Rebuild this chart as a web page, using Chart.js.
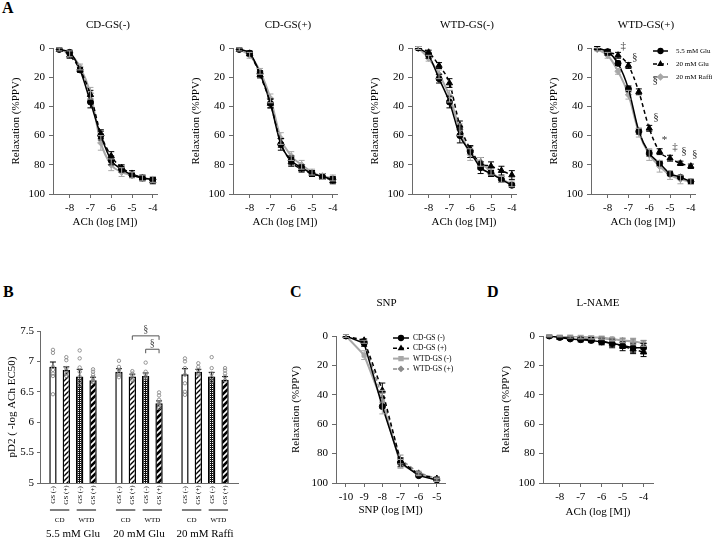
<!DOCTYPE html>
<html><head><meta charset="utf-8">
<script src="https://cdn.jsdelivr.net/npm/chart.js@4/dist/chart.umd.min.js"></script>
<style>
body{margin:0;background:#fff;}
#wrap{position:relative;width:712px;height:540px;overflow:hidden;background:#fff;}
canvas{position:absolute;}
.lt{position:absolute;font:bold 16px "Liberation Serif",serif;color:#000;line-height:16px;}
</style></head><body>
<div id="wrap">
<div class="lt" style="left:2px;top:0px">A</div>
<div class="lt" style="left:3px;top:284px">B</div>
<div class="lt" style="left:290px;top:284px">C</div>
<div class="lt" style="left:487px;top:284px">D</div>
<canvas id="a1" width="180" height="240" style="left:0px;top:0px"></canvas>
<canvas id="a2" width="180" height="240" style="left:180px;top:0px"></canvas>
<canvas id="a3" width="180" height="240" style="left:359px;top:0px"></canvas>
<canvas id="a4" width="174" height="240" style="left:538px;top:0px"></canvas>
<canvas id="b" width="250" height="250" style="left:0px;top:290px"></canvas>
<canvas id="c" width="190" height="240" style="left:280px;top:290px"></canvas>
<canvas id="d" width="200" height="240" style="left:490px;top:290px"></canvas>
</div>
<script>
// ---------------- DATA ----------------
const achDoses = [-8.5,-8,-7.5,-7,-6.5,-6,-5.5,-5,-4.5,-4];
const achTicks = [-8,-7,-6,-5,-4];
const snpDoses = [-10,-9,-8,-7,-6,-5];
const snpTicks = [-10,-9,-8,-7,-6,-5];
const relaxTicks = [0,20,40,60,80,100];
const seriesA = ['5.5 mM Glu','20 mM Glu','20 mM Raffi'];
const panelTitlesA = ['CD-GS(-)','CD-GS(+)','WTD-GS(-)','WTD-GS(+)'];

// Panel A1: CD-GS(-)
const a1_glu55 = [1,3,15,37,60,77,83,87,89,90];
const a1_glu20 = [1,5,15,32,59,74,82,86,89,91];
const a1_raffi = [1,4,13,31,65,80,85,87,89,90];
const a1_glu55_err = [1,1.5,1.5,4,3,3,2,1.5,1.5,1.5];
const a1_glu20_err = [1,2,1.5,3,3,3,2,2,2,2];
const a1_raffi_err = [1,2,2,4,5,4,3,2,2,2];
// Panel A2: CD-GS(+)
const a2_glu55 = [1,3.5,17.5,38,66,77,82,86,88,90];
const a2_glu20 = [1,4,18.5,38,65,78,83,86,88,91];
const a2_raffi = [1,5,16,34.5,62,74,80,85,88,89];
const a2_glu55_err = [1,1.5,2,3,4,3,2,2,2,2];
const a2_glu20_err = [1,1.5,2,3,3,3,2,2,2,2];
const a2_raffi_err = [1,2,2,3,4,3,3,2,2,2];
// Panel A3: WTD-GS(-)
const a3_glu55 = [0,5,21,37,60,71,82,86,90,94];
const a3_glu20 = [0,3,12,24,53,69,79,81,84,87];
const a3_raffi = [0,7,18,33,56,73,78,85,90,93];
const a3_glu55_err = [1,2,3,4,5,4,4,2,2,1.5];
const a3_glu20_err = [1,1.5,2,3,3,2,4,3,3,3];
const a3_raffi_err = [1,2,3,4,4,4,3,2,2,2];
// Panel A4: WTD-GS(+)
const a4_glu55 = [0,2.5,10.5,28,57,72,79,86,88.5,91.5];
const a4_glu20 = [0,3,5,12,30,55,71,75.5,79,81];
const a4_raffi = [1,5,16,32,58,73,81,87,90,91.5];
const a4_glu55_err = [1,1.5,1.5,2,2,2,1.5,1.5,1,1.5];
const a4_glu20_err = [1,2,2,2,2,2,2,2,1.5,1.5];
const a4_raffi_err = [1,2,2,3,3,4,4,3,3,2];
const a4_sigX = [-7.25,-6.7,-5.71,-5.67,-5.27,-4.76,-4.33,-3.81];
const a4_sigY = [-1,6,22,47.5,63,68,70.3,72.6];
const a4_sigText = ['‡','§','§','§','*','‡','§','§'];

// Panel B: pD2
const bGroups = ['5.5 mM Glu','20 mM Glu','20 mM Raffi'];
const bSeries = ['CD-GS(-)','CD-GS(+)','WTD-GS(-)','WTD-GS(+)'];
const bSubLabels = ['GS (-)','GS (+)','GS (-)','GS (+)'];
const bDiets = ['CD','WTD'];
const bTicks = [5,5.5,6,6.5,7,7.5];
const pd2_cdNeg = [6.91,6.83,6.79];
const pd2_cdPos = [6.86,6.75,6.83];
const pd2_wtdNeg = [6.75,6.76,6.75];
const pd2_wtdPos = [6.69,6.31,6.70];
const pd2_cdNeg_err = [0.08,0.05,0.09];
const pd2_cdPos_err = [0.05,0.04,0.04];
const pd2_wtdNeg_err = [0.12,0.05,0.07];
const pd2_wtdPos_err = [0.05,0.04,0.05];
const pd2_cdNeg_pts = [[7.19,7.14,6.91,6.86,6.8,6.76,6.46],[7.01,6.91,6.86,6.81,6.78,6.74],[7.05,7.0,6.89,6.78,6.64,6.5,6.45]];
const pd2_cdPos_pts = [[7.07,7.02,6.89,6.85,6.8,6.76],[6.84,6.8,6.77,6.72,6.69],[6.97,6.91,6.86,6.81,6.78]];
const pd2_wtdNeg_pts = [[7.18,7.05,6.9,6.83,6.75,6.67,6.61],[6.98,6.83,6.79,6.75,6.72],[7.07,6.89,6.8,6.74,6.67]];
const pd2_wtdPos_pts = [[6.87,6.83,6.78,6.74,6.69,6.66],[6.49,6.44,6.37,6.32,6.28,6.24],[6.89,6.85,6.8,6.75,6.69]];
const bSigGroup = [1,1];
const bSigFrom = [1,2];
const bSigTo = [3,3];
const bSigY = [7.42,7.2];
const bSigText = ['§','§'];

// Panel C: SNP
const seriesCD = ['CD-GS (-)','CD-GS (+)','WTD-GS (-)','WTD-GS (+)'];
const c_cdNeg = [0,5,48,86,95,98];
const c_cdPos = [0,3,37,85,94,97];
const c_wtdNeg = [0,13,45,87,94,98];
const c_wtdPos = [0,4,42,84,93,97];
const c_cdNeg_err = [1,2,1,3,1,1];
const c_cdPos_err = [1,1,5,2,1,1];
const c_wtdNeg_err = [1,3,8,3,1,1];
const c_wtdPos_err = [1,1,3,3,1,1];

// Panel D: L-NAME
const d_cdNeg = [0,1,2,2.5,3,4,5,6.5,8,8];
const d_cdPos = [0,1,1.5,2,2.5,3.5,5,7,9,11];
const d_wtdNeg = [0,0,0,0.5,1,1,2,3,3.5,5];
const d_wtdPos = [0,0,0.5,1,1,1.5,2.5,3,4,5];
const d_cdNeg_err = [0.5,1,1,1.5,1.5,2,3,2,3,3];
const d_cdPos_err = [0.5,1,1,1,1.5,2,2,3,3,3];
const d_wtdNeg_err = [0.5,0.5,0.5,1,1,1,1,1.5,2,2];
const d_wtdPos_err = [0.5,0.5,1,1,1,1,1,1.5,2,2];

// ---------------- SETUP ----------------
const FONT = '"Liberation Serif", "Times New Roman", serif';
Chart.defaults.font.family = FONT;
Chart.defaults.color = '#000';
const AXIS = '#6a6a6a';
const extras = {};

const errPlugin = {
  id:'errBars',
  afterDatasetsDraw(chart){
    const ctx = chart.ctx;
    chart.data.datasets.forEach((ds,i)=>{
      if(!ds.errors) return;
      const meta = chart.getDatasetMeta(i);
      const ys = chart.scales[meta.yAxisID];
      ctx.save();
      ctx.strokeStyle = ds.errColor || ds.borderColor;
      ctx.lineWidth = 1;
      ctx.setLineDash([]);
      meta.data.forEach((el,j)=>{
        const v = ds.data[j]; const val = (typeof v === 'object') ? v.y : v;
        const e = ds.errors[j]; if(!e) return;
        const x = el.x;
        const y1 = ds.errUpOnly ? ys.getPixelForValue(val) : ys.getPixelForValue(val - e);
        const y2 = ys.getPixelForValue(val + e);
        const c = ds.capW || 3;
        ctx.beginPath();
        ctx.moveTo(x,y1); ctx.lineTo(x,y2);
        if(!ds.errUpOnly){ctx.moveTo(x-c,y1); ctx.lineTo(x+c,y1);}
        ctx.moveTo(x-c,y2); ctx.lineTo(x+c,y2);
        ctx.stroke();
      });
      ctx.restore();
    });
  }
};

const textPlugin = {
  id:'panelExtras',
  afterDraw(chart){
    const ex = extras[chart.canvas.id]; if(!ex) return;
    const ctx = chart.ctx, a = chart.chartArea;
    ctx.save();
    if(ex.title){
      ctx.font = '11px ' + FONT; ctx.fillStyle='#000'; ctx.textAlign='center'; ctx.textBaseline='middle';
      ctx.fillText(ex.title, (a.left+a.right)/2 + (ex.titleDx||0), ex.titleY);
    }
    if(ex.legend){
      const o = ex.legend;
      chart.data.datasets.forEach((ds,i)=>{
        const y = a.top + o.dy + i*o.step, x0 = a.left + o.dx, x1 = x0 + o.len;
        ctx.strokeStyle = ds.borderColor; ctx.lineWidth = ds.borderWidth;
        ctx.setLineDash(ds.borderDash || []);
        ctx.beginPath(); ctx.moveTo(x0,y); ctx.lineTo(x1,y); ctx.stroke();
        ctx.setLineDash([]);
        ctx.fillStyle = ds.pointBackgroundColor; ctx.strokeStyle = ds.pointBorderColor;
        Chart.helpers.drawPoint(ctx,{pointStyle:ds.pointStyle, radius:o.r, rotation:0, borderWidth:1}, (x0+x1)/2, y);
        ctx.fillStyle = '#000'; ctx.font = o.font + 'px ' + FONT; ctx.textAlign='left'; ctx.textBaseline='middle';
        ctx.fillText(ds.label, x1 + o.gap, y);
      });
    }
    if(ex.marks){
      const xs = chart.scales.x, ys = chart.scales.y;
      ctx.font = '11px ' + FONT; ctx.fillStyle='#333'; ctx.textAlign='center'; ctx.textBaseline='middle';
      ex.marks.x.forEach((mx,i)=>{
        ctx.fillText(ex.marks.t[i], xs.getPixelForValue(mx), ys.getPixelForValue(ex.marks.y[i]));
      });
    }
    ctx.restore();
  }
};
Chart.register(errPlugin, textPlugin);

function lineDs(label, xs, ys, errs, style){
  return Object.assign({
    label, data: xs.map((x,i)=>({x, y: ys[i]})), errors: errs,
    borderWidth: 1.5, pointRadius: 3, pointBorderWidth: 1, capW: 3
  }, style);
}
const stCircle = {borderColor:'#000', pointBackgroundColor:'#000', pointBorderColor:'#000', pointStyle:'circle'};
const stTri = {borderColor:'#000', pointBackgroundColor:'#000', pointBorderColor:'#000', pointStyle:'triangle', borderDash:[4,3], pointRadius:3.6};
const stGrayDia = {borderColor:'#a8a8a8', pointBackgroundColor:'#a8a8a8', pointBorderColor:'#a8a8a8', pointStyle:'rectRot', borderWidth:2, pointRadius:3.2};
const stGraySq = {borderColor:'#a8a8a8', pointBackgroundColor:'#a8a8a8', pointBorderColor:'#a8a8a8', pointStyle:'rect', borderWidth:2, pointRadius:3};
const stGrayDiaDash = {borderColor:'#8c8c8c', pointBackgroundColor:'#8c8c8c', pointBorderColor:'#8c8c8c', pointStyle:'rectRot', borderDash:[4,3], pointRadius:3};

function lineChart(id, o){
  const cv = document.getElementById(id);
  const W = cv.width, Hh = cv.height;
  return new Chart(cv, {
    type:'line',
    data:{datasets:o.datasets},
    options:{
      responsive:false, animation:false,
      elements:{line:{cubicInterpolationMode: o.smooth ? 'monotone' : 'default', tension: 0}},
      layout:{padding:{left:0, top:o.area.t, right:W - o.area.r, bottom:0}},
      plugins:{legend:{display:false}, tooltip:{enabled:false}},
      scales:{
        x:{type:'linear', min:o.xMin, max:o.xMax,
           afterBuildTicks:s=>{s.ticks = o.xTicks.map(v=>({value:v}));},
           afterFit:s=>{s.height = Hh - o.area.b;},
           ticks:{color:'#000', font:{size:11}, padding:4, callback:v=>String(v), maxRotation:0, autoSkip:false},
           grid:{drawOnChartArea:false, tickLength:4, color:AXIS},
           border:{color:AXIS, width:1},
           title:{display:true, text:o.xTitle, color:'#000', font:{size:11}, padding:{top:0,bottom:o.xTitlePad}}},
        y:{type:'linear', reverse:true, min:0, max:100,
           afterBuildTicks:s=>{s.ticks = relaxTicks.map(v=>({value:v}));},
           afterFit:s=>{s.width = o.area.l;},
           ticks:{color:'#000', font:{size:11}, padding:4, callback:v=>String(v)},
           grid:{drawOnChartArea:false, tickLength:4, color:AXIS},
           border:{color:AXIS, width:1},
           title:{display:true, text:'Relaxation (%PPV)', color:'#000', font:{size:11}, padding:{top:o.yTitlePad, bottom:0}}}
      }
    }
  });
}

// ---------------- PANEL A ----------------
const aSets = [
  [a1_glu55,a1_glu20,a1_raffi,a1_glu55_err,a1_glu20_err,a1_raffi_err],
  [a2_glu55,a2_glu20,a2_raffi,a2_glu55_err,a2_glu20_err,a2_raffi_err],
  [a3_glu55,a3_glu20,a3_raffi,a3_glu55_err,a3_glu20_err,a3_raffi_err],
  [a4_glu55,a4_glu20,a4_raffi,a4_glu55_err,a4_glu20_err,a4_raffi_err]
];
['a1','a2','a3','a4'].forEach((id,k)=>{
  const s = aSets[k];
  extras[id] = {title: panelTitlesA[k], titleY: 25, titleDx: 3};
  if(k===3){
    extras[id].legend = {dx:62, dy:3, step:13, len:15, r:2.4, gap:8, font:7};
    extras[id].marks = {x:a4_sigX, y:a4_sigY, t:a4_sigText};
  }
  lineChart(id, {
    area:{l:53, t:48, r:157, b:194},
    xMin:-8.8, xMax:-3.8, xTicks:achTicks, xTitle:'ACh (log [M])', xTitlePad:11, yTitlePad:10, smooth:true,
    datasets:[
      lineDs(seriesA[0], achDoses, s[0], s[3], stCircle),
      lineDs(seriesA[1], achDoses, s[1], s[4], stTri),
      lineDs(seriesA[2], achDoses, s[2], s[5], stGrayDia)
    ]
  });
});

// ---------------- PANEL C ----------------
extras['c'] = {title:'SNP', titleY:13, titleDx:-4, legend:{dx:57, dy:2, step:10.3, len:16, r:2.4, gap:4, font:7.5}};
lineChart('c', {
  area:{l:56, t:46, r:165, b:193},
  xMin:-10.55, xMax:-4.55, xTicks:snpTicks, xTitle:'SNP (log [M])', xTitlePad:13, yTitlePad:10, smooth:false,
  datasets:[
    lineDs(seriesCD[0], snpDoses, c_cdNeg, c_cdNeg_err, stCircle),
    lineDs(seriesCD[1], snpDoses, c_cdPos, c_cdPos_err, stTri),
    lineDs(seriesCD[2], snpDoses, c_wtdNeg, c_wtdNeg_err, stGraySq),
    lineDs(seriesCD[3], snpDoses, c_wtdPos, c_wtdPos_err, stGrayDiaDash)
  ]
});

// ---------------- PANEL D ----------------
extras['d'] = {title:'L-NAME', titleY:13, titleDx:0};
lineChart('d', {
  area:{l:53, t:46, r:163, b:193},
  xMin:-8.8, xMax:-3.55, xTicks:achTicks, xTitle:'ACh (log [M])', xTitlePad:11, yTitlePad:10, smooth:false,
  datasets:[
    lineDs(seriesCD[0], achDoses, d_cdNeg, d_cdNeg_err, stCircle),
    lineDs(seriesCD[1], achDoses, d_cdPos, d_cdPos_err, stTri),
    lineDs(seriesCD[2], achDoses, d_wtdNeg, d_wtdNeg_err, stGraySq),
    lineDs(seriesCD[3], achDoses, d_wtdPos, d_wtdPos_err, stGrayDiaDash)
  ]
});

// ---------------- PANEL B ----------------
function makePat(w,h,draw){const c=document.createElement('canvas');c.width=w;c.height=h;const g=c.getContext('2d');draw(g,w,h);return g.createPattern(c,'repeat');}
function diag(g,n,color,lw){g.strokeStyle=color;g.lineWidth=lw;g.beginPath();
  g.moveTo(-1,n+1);g.lineTo(n+1,-1);g.moveTo(-1,1);g.lineTo(1,-1);g.moveTo(n-1,n+1);g.lineTo(n+1,n-1);g.stroke();}
const patWhite = '#ffffff';
const patHatch = makePat(5,5,(g,w,h)=>{g.fillStyle='#fff';g.fillRect(0,0,w,h);diag(g,5,'#000',1.4);});
const patDots = makePat(2,2,(g)=>{g.fillStyle='#111';g.fillRect(0,0,2,2);g.fillStyle='#fff';g.fillRect(0,0,1,1);});
const patStripe = makePat(6,6,(g,w,h)=>{g.fillStyle='#000';g.fillRect(0,0,w,h);diag(g,6,'#fff',1.6);});
const bFills = [patWhite, patHatch, patDots, patStripe];
const bVals = [pd2_cdNeg, pd2_cdPos, pd2_wtdNeg, pd2_wtdPos];
const bErrs = [pd2_cdNeg_err, pd2_cdPos_err, pd2_wtdNeg_err, pd2_wtdPos_err];
const bPts = [pd2_cdNeg_pts, pd2_cdPos_pts, pd2_wtdNeg_pts, pd2_wtdPos_pts];

const bPlugin = {
  id:'bExtras',
  afterDraw(chart){
    if(chart.canvas.id!=='b') return;
    const ctx = chart.ctx, ys = chart.scales.y, a = chart.chartArea;
    ctx.save();
    // individual points
    ctx.strokeStyle = '#8a8a8a'; ctx.lineWidth = 0.9;
    bPts.forEach((grp,d)=>{
      const meta = chart.getDatasetMeta(d);
      grp.forEach((pts,g)=>{
        const x = meta.data[g].x;
        pts.forEach(v=>{ctx.beginPath();ctx.arc(x, ys.getPixelForValue(v), 1.7, 0, Math.PI*2);ctx.stroke();});
      });
    });
    // significance brackets
    ctx.strokeStyle = '#555'; ctx.lineWidth = 1; ctx.fillStyle='#444';
    ctx.font = '10px ' + FONT; ctx.textAlign='center'; ctx.textBaseline='bottom';
    bSigGroup.forEach((g,i)=>{
      const x1 = chart.getDatasetMeta(bSigFrom[i]).data[g].x;
      const x2 = chart.getDatasetMeta(bSigTo[i]).data[g].x;
      const y = ys.getPixelForValue(bSigY[i]);
      ctx.beginPath(); ctx.moveTo(x1,y+4); ctx.lineTo(x1,y); ctx.lineTo(x2,y); ctx.lineTo(x2,y+4); ctx.stroke();
      ctx.fillText(bSigText[i], (x1+x2)/2, y-1);
    });
    // sub labels below axis
    ctx.fillStyle = '#000';
    bVals.forEach((v,d)=>{
      const meta = chart.getDatasetMeta(d);
      meta.data.forEach(el=>{
        ctx.save(); ctx.translate(el.x, a.bottom + 12); ctx.rotate(-Math.PI/2);
        ctx.font = '7px ' + FONT; ctx.textAlign='center'; ctx.textBaseline='middle';
        ctx.fillText(bSubLabels[d], 0, 0); ctx.restore();
      });
    });
    // diet lines and labels
    ctx.strokeStyle = '#000'; ctx.lineWidth = 1;
    ctx.font = '7px ' + FONT; ctx.textAlign='center'; ctx.textBaseline='middle';
    for(let g=0; g<bGroups.length; g++){
      bDiets.forEach((diet,p)=>{
        const xa = chart.getDatasetMeta(p*2).data[g].x, xb = chart.getDatasetMeta(p*2+1).data[g].x;
        ctx.beginPath(); ctx.moveTo(xa-3, a.bottom+27); ctx.lineTo(xb+3, a.bottom+27); ctx.stroke();
        ctx.fillText(diet, (xa+xb)/2, a.bottom+37);
      });
    }
    ctx.restore();
  }
};
Chart.register(bPlugin);

(function(){
  const cv = document.getElementById('b');
  const area = {l:40, t:41, r:238, b:193};
  new Chart(cv, {
    type:'bar',
    // multi-line labels push the group names below the sub-labels
    data:{labels:bGroups.map(g=>['','','',g]), datasets: bSeries.map((name,d)=>({
      label:name, data:bVals[d], errors:bErrs[d], errUpOnly:true, errColor:'#000', capW:3,
      backgroundColor:bFills[d], borderColor:'#000', borderWidth:1.5, borderSkipped:false,
      barPercentage:0.55, categoryPercentage:0.81
    }))},
    options:{
      responsive:false, animation:false,
      layout:{padding:{left:0, top:area.t, right:cv.width-area.r, bottom:0}},
      plugins:{legend:{display:false}, tooltip:{enabled:false}},
      scales:{
        x:{afterFit:s=>{s.height = cv.height - area.b;},
           ticks:{color:'#000', font:{size:11, lineHeight:1.06}, padding:2, maxRotation:0, autoSkip:false},
           grid:{display:false}, border:{color:AXIS, width:1}},
        y:{min:5, max:7.5,
           afterBuildTicks:s=>{s.ticks = bTicks.map(v=>({value:v}));},
           afterFit:s=>{s.width = area.l;},
           ticks:{color:'#000', font:{size:11}, padding:3, callback:v=>String(v)},
           grid:{drawOnChartArea:false, tickLength:3, color:AXIS},
           border:{color:AXIS, width:1},
           title:{display:true, text:'pD2 ( -log ACh EC50)', color:'#000', font:{size:11}, padding:{top:6,bottom:0}}}
      }
    }
  });
})();
</script>
</body></html>
